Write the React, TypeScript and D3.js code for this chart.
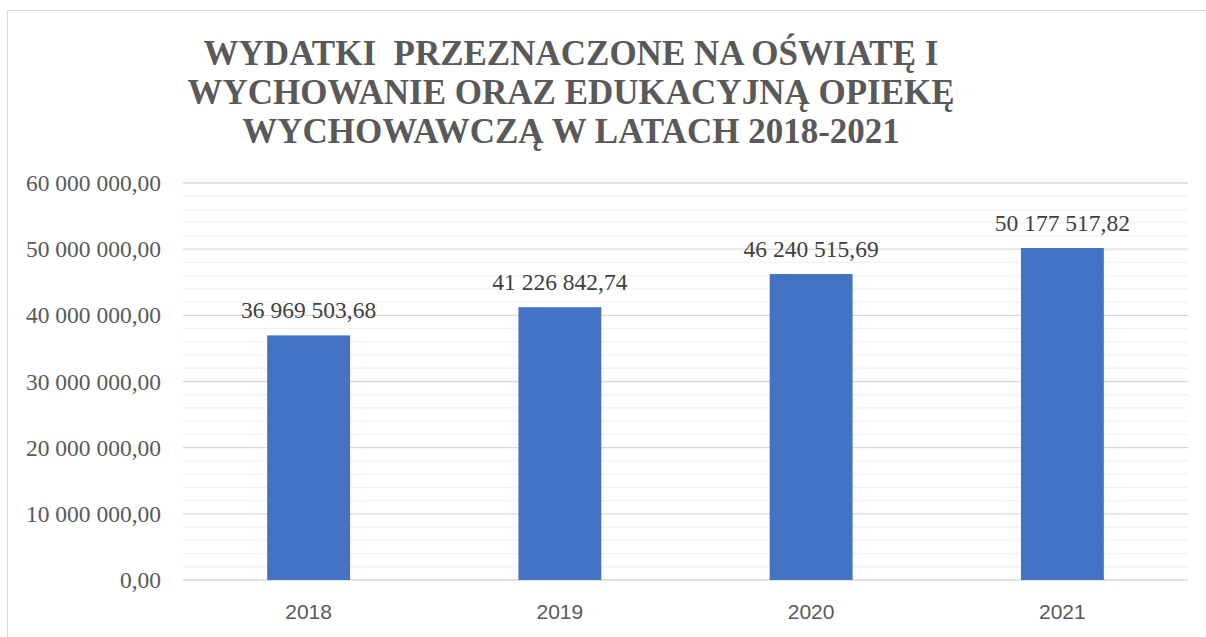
import React from 'react';
import * as d3 from 'd3';

const years = ['2018', '2019', '2020', '2021'];
const expenses = [36969503.68, 41226842.74, 46240515.69, 50177517.82];
const titleLines = [
  'WYDATKI  PRZEZNACZONE NA OŚWIATĘ I',
  'WYCHOWANIE ORAZ EDUKACYJNĄ OPIEKĘ',
  'WYCHOWAWCZĄ W LATACH 2018-2021',
];
const majorTicks = [0, 10000000, 20000000, 30000000, 40000000, 50000000, 60000000];

const width = 1206;
const height = 637;
const margin = { top: 183, right: 18, bottom: 57, left: 183 };

const serif = { fontFamily: "'Liberation Serif', 'Times New Roman', serif" };
const sans = { fontFamily: "'Liberation Sans', Arial, sans-serif" };

// "36 969 503,68" style
const plNumber = (v: number) => {
  const [intPart, dec] = v.toFixed(2).split('.');
  return intPart.replace(/\B(?=(\d{3})+(?!\d))/g, ' ') + ',' + dec;
};

const App = () => {
  const x = d3.scaleBand()
    .domain(years)
    .range([margin.left, width - margin.right])
    .paddingInner(0.67)
    .paddingOuter(0.335);

  const y = d3.scaleLinear()
    .domain([0, 60000000])
    .range([height - margin.bottom, margin.top]);

  const minorTicks = d3.range(0, 60000001, 2000000).filter(v => v % 10000000 !== 0);

  return (
    <svg width={width} height={height}
      style={{ position: 'absolute', left: 0, top: 0, background: '#fff' }}>
      {/* chart frame */}
      <line x1={7} x2={width} y1={10.5} y2={10.5} stroke="#d9d9d9" />
      <line x1={7.5} x2={7.5} y1={10} y2={height} stroke="#d9d9d9" />

      {titleLines.map((t, i) => (
        <text key={i} x={571} y={65 + i * 39} textAnchor="middle"
          fontWeight="bold" fontSize={35} fill="#595959"
          style={{ ...serif, whiteSpace: 'pre' }}>
          {t}
        </text>
      ))}

      {minorTicks.map(v => (
        <line key={'m' + v} x1={margin.left} x2={width - margin.right}
          y1={y(v)} y2={y(v)} stroke="#f2f2f2" strokeWidth={1.3} />
      ))}
      {majorTicks.map(v => (
        <line key={'g' + v} x1={margin.left} x2={width - margin.right}
          y1={y(v)} y2={y(v)} stroke="#d9d9d9" strokeWidth={1.3} />
      ))}

      {majorTicks.map(v => (
        <text key={'t' + v} x={161} y={y(v) + 8} textAnchor="end"
          fontSize={23.5} fill="#595959" style={serif}>
          {plNumber(v)}
        </text>
      ))}

      {years.map((yr, i) => (
        <g key={yr}>
          <rect x={x(yr)} y={y(expenses[i])} width={x.bandwidth()}
            height={y(0) - y(expenses[i])} fill="#4472c4" />
          <text x={(x(yr) as number) + x.bandwidth() / 2} y={y(expenses[i]) - 17}
            textAnchor="middle" fontSize={23.5} fill="#404040" style={serif}>
            {plNumber(expenses[i])}
          </text>
          <text x={(x(yr) as number) + x.bandwidth() / 2} y={619}
            textAnchor="middle" fontSize={21} fill="#595959" style={sans}>
            {yr}
          </text>
        </g>
      ))}
    </svg>
  );
};

export default App;
